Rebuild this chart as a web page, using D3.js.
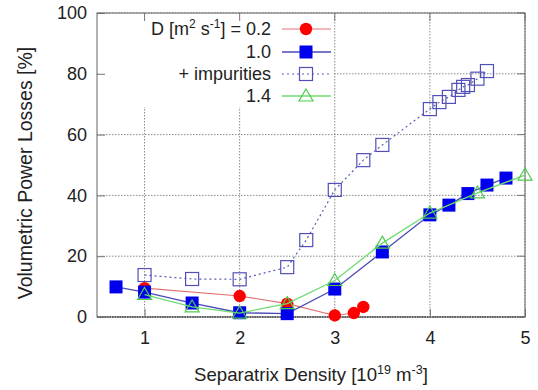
<!DOCTYPE html>
<html><head><meta charset="utf-8">
<script src="https://cdn.jsdelivr.net/npm/d3@7"></script>
<style>body{margin:0;background:#fff}svg{display:block;font-family:"Liberation Sans",Arial,sans-serif}</style>
</head><body><svg id="c" width="538" height="390"></svg>
<script>
const xTicks = [1, 2, 3, 4, 5];
const yTicks = [0, 20, 40, 60, 80, 100];

const redX = [1, 2, 2.5, 3, 3.2, 3.3];
const redY = [9.5, 6.9, 4.4, 0.5, 1.3, 3.3];

const blueX = [0.7, 1, 1.5, 2, 2.5, 3, 3.5, 4, 4.2, 4.4, 4.6, 4.8];
const blueY = [9.9, 8.2, 4.6, 1.4, 1.1, 9.2, 21.4, 33.6, 36.8, 40.6, 43.4, 45.7];

const impX = [1, 1.5, 2, 2.5, 2.7, 3, 3.3, 3.5, 4, 4.1, 4.2, 4.3, 4.35, 4.4, 4.5, 4.6];
const impY = [13.8, 12.5, 12.4, 16.4, 25.3, 41.8, 51.6, 56.6, 68.4, 70.7, 72.4, 74.7, 75.7, 76.3, 78.4, 80.9];

const greenX = [1, 1.5, 2, 2.5, 3, 3.5, 4, 4.5, 5];
const greenY = [7.4, 3.3, 1.3, 4.4, 12, 24.3, 34.2, 40.8, 46.7];

const L = 97, R = 525, T = 13, B = 317;
const x = d3.scaleLinear().domain([0.5, 5]).range([L, R]);
const y = d3.scaleLinear().domain([0, 100]).range([B, T]);
const svg = d3.select("#c");

// grid
const grid = svg.append("g").attr("stroke", "#8a8a8a").attr("stroke-width", 1).attr("stroke-dasharray", "1.5,1.5");
xTicks.forEach(t => grid.append("line").attr("x1", x(t)).attr("x2", x(t)).attr("y1", T).attr("y2", B));
yTicks.forEach(t => grid.append("line").attr("x1", L).attr("x2", R).attr("y1", y(t)).attr("y2", y(t)));
// baseline darker dotted
svg.append("line").attr("x1", L).attr("x2", R).attr("y1", B).attr("y2", B)
  .attr("stroke", "#333").attr("stroke-width", 1.5).attr("stroke-dasharray", "1.5,1");

// legend background
svg.append("rect").attr("x", L + 1).attr("y", T + 1).attr("width", 236).attr("height", 93).attr("fill", "#fff");

// axes with d3
const xAxis = d3.axisBottom(x).tickValues(xTicks).tickSize(-8).tickPadding(14).tickFormat(d3.format("d"));
const yAxis = d3.axisLeft(y).tickValues(yTicks).tickSize(-8).tickPadding(10).tickFormat(d3.format("d"));
const gx = svg.append("g").attr("transform", `translate(0,${B})`).call(xAxis);
const gy = svg.append("g").attr("transform", `translate(${L},0)`).call(yAxis);
[gx, gy].forEach(g => {
  g.select(".domain").remove();
  g.selectAll(".tick line").attr("stroke", "#777");
  g.selectAll("text").attr("font-size", 18).attr("fill", "#222").attr("font-family", "Liberation Sans, Arial, sans-serif");
});
// mirrored ticks
const gt = svg.append("g").attr("stroke", "#777");
xTicks.forEach(t => gt.append("line").attr("x1", x(t)).attr("x2", x(t)).attr("y1", T).attr("y2", T + 8));
yTicks.forEach(t => gt.append("line").attr("x1", R).attr("x2", R - 8).attr("y1", y(t)).attr("y2", y(t)));

// frame
svg.append("rect").attr("x", L).attr("y", T).attr("width", R - L).attr("height", B - T)
  .attr("fill", "none").attr("stroke", "#666").attr("stroke-width", 1);

const line = d3.line().x(d => x(d[0])).y(d => y(d[1]));
function zip(a, b) { return a.map((v, i) => [v, b[i]]); }

const series = [
  { xs: greenX, ys: greenY, stroke: "#6fdc6f", w: 1.3, dash: null, marker: "tri" },
  { xs: blueX, ys: blueY, stroke: "#4a4ab8", w: 1.3, dash: null, marker: "fsq" },
  { xs: redX, ys: redY, stroke: "#e07070", w: 1.1, dash: null, marker: "circ" },
  { xs: impX, ys: impY, stroke: "#5a5ab8", w: 1.2, dash: "2,3", marker: "osq" }
];

function drawMarker(g, type, cx, cy) {
  if (type === "circ") g.append("circle").attr("cx", cx).attr("cy", cy).attr("r", 6.2).attr("fill", "#ff0000");
  else if (type === "fsq") g.append("rect").attr("x", cx - 6.5).attr("y", cy - 6.5).attr("width", 13).attr("height", 13).attr("fill", "#0000ee");
  else if (type === "osq") g.append("rect").attr("x", cx - 6.5).attr("y", cy - 6.5).attr("width", 13).attr("height", 13).attr("fill", "none").attr("stroke", "#5050b8").attr("stroke-width", 1.2);
  else if (type === "tri") g.append("path").attr("d", `M${cx},${cy - 7}L${cx + 7},${cy + 5}L${cx - 7},${cy + 5}Z`).attr("fill", "none").attr("stroke", "#4ccc4c").attr("stroke-width", 1.2);
}

const plot = svg.append("g");
const order = [series[3], series[2], series[1], series[0]];
order.forEach(s => {
  const p = plot.append("path").datum(zip(s.xs, s.ys)).attr("d", line).attr("fill", "none")
    .attr("stroke", s.stroke).attr("stroke-width", s.w);
  if (s.dash) p.attr("stroke-dasharray", s.dash);
  zip(s.xs, s.ys).forEach(d => drawMarker(plot, s.marker, x(d[0]), y(d[1])));
});

// legend
const leg = svg.append("g").attr("font-size", 18).attr("fill", "#222");
const legRows = [
  { s: series[2], y: 29 },
  { s: series[1], y: 52 },
  { s: series[3], y: 74 },
  { s: series[0], y: 96 }
];
legRows.forEach(r => {
  const l = leg.append("line").attr("x1", 282).attr("x2", 331).attr("y1", r.y).attr("y2", r.y)
    .attr("stroke", r.s.stroke).attr("stroke-width", r.s.w);
  if (r.s.dash) l.attr("stroke-dasharray", r.s.dash);
  drawMarker(leg, r.s.marker, 306, r.y);
});
const t0 = leg.append("text").attr("x", 271).attr("y", legRows[0].y + 6).attr("text-anchor", "end");
t0.append("tspan").text("D [m");
t0.append("tspan").attr("dy", -7).attr("font-size", 12).text("2");
t0.append("tspan").attr("dy", 7).text(" s");
t0.append("tspan").attr("dy", -7).attr("font-size", 12).text("-1");
t0.append("tspan").attr("dy", 7).text("] = 0.2");
leg.append("text").attr("x", 271).attr("y", legRows[1].y + 6).attr("text-anchor", "end").text("1.0");
leg.append("text").attr("x", 271).attr("y", legRows[2].y + 6).attr("text-anchor", "end").text("+ impurities");
leg.append("text").attr("x", 271).attr("y", legRows[3].y + 6).attr("text-anchor", "end").text("1.4");

// axis titles
const xt = svg.append("text").attr("x", 311).attr("y", 381).attr("text-anchor", "middle").attr("font-size", 18.6).attr("fill", "#222");
xt.append("tspan").text("Separatrix Density [10");
xt.append("tspan").attr("dy", -7).attr("font-size", 12.5).text("19");
xt.append("tspan").attr("dy", 7).text(" m");
xt.append("tspan").attr("dy", -7).attr("font-size", 12.5).text("-3");
xt.append("tspan").attr("dy", 7).text("]");

svg.append("text").attr("transform", "translate(32,173) rotate(-90)").attr("text-anchor", "middle")
  .attr("font-size", 19.5).attr("fill", "#222").text("Volumetric Power Losses [%]");
</script></body></html>
